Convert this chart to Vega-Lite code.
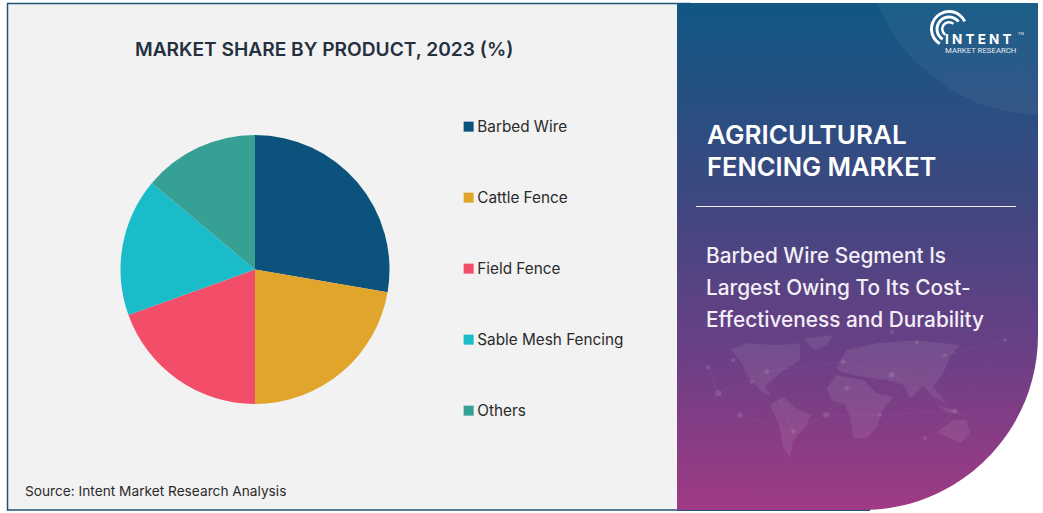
{
"$schema":"https://vega.github.io/schema/vega-lite/v6.json",
"width":1043,"height":513,"padding":0,"autosize":{"type":"none"},"background":"white",
"config":{"view":{"stroke":null}},
"title":{"text":"MARKET SHARE BY PRODUCT, 2023 (%)","anchor":"start","frame":"group","dx":135,"dy":75,"offset":0,"baseline":"alphabetic","font":"Inter","fontSize":19.15,"fontWeight":600,"color":"#25303f"},
"data":{"values":[
{"product":"Barbed Wire","share":27.7,"rank":1},
{"product":"Cattle Fence","share":22.3,"rank":2},
{"product":"Field Fence","share":19.5,"rank":3},
{"product":"Sable Mesh Fencing","share":16.6,"rank":4},
{"product":"Others","share":13.9,"rank":5}
]},
"layer":[
{"data":{"values":[{}]},"mark":{"type":"rect","fill":"#f2f2f2","stroke":"#1f5473","strokeWidth":1.5},
 "encoding":{"x":{"value":7.5},"x2":{"value":690},"y":{"value":3.5},"y2":{"value":510}}},
{"data":{"values":[{}]},"mark":{"type":"rect","fill":"#2a4f78"},
 "encoding":{"x":{"value":677},"x2":{"value":870},"y":{"value":509},"y2":{"value":511}}},
{"data":{"values":[{}]},"mark":{"type":"rect","cornerRadiusBottomRight":175,"color":{"gradient":"linear","x1":0,"y1":0,"x2":0,"y2":1,"stops":[{"offset":0,"color":"#105783"},{"offset":0.4,"color":"#404780"},{"offset":0.7,"color":"#6c3f85"},{"offset":1,"color":"#a03a85"}]}},
 "encoding":{"x":{"value":677},"x2":{"value":1038},"y":{"value":3},"y2":{"value":510}}},
{"data":{"values":{"type":"FeatureCollection","features":[
 {"type":"Feature","properties":{"name":"swoosh"},"geometry":{"type":"Polygon","coordinates":[[[561,-981],[600,-900],[669,-810],[780,-720],[876,-675],[960,-654],[1044,-645],[1044,-981],[561,-981]]]}}
]},"format":{"type":"json","property":"features"}},
 "projection":{"type":"identity","scale":0.3333,"translate":[690,330]},
 "mark":{"type":"geoshape","fill":"#ffffff","fillOpacity":0.05,"stroke":null}},
{"data":{"values":{"type":"FeatureCollection","features":[
 {"type":"Feature","properties":{"name":"Greenland"},"geometry":{"type":"Polygon","coordinates":[[[340,25],[430,15],[410,45],[380,60],[360,50],[340,25]]]}},
 {"type":"Feature","properties":{"name":"North America"},"geometry":{"type":"Polygon","coordinates":[[[120,60],[170,40],[260,45],[330,40],[330,90],[270,130],[225,170],[245,200],[215,185],[175,140],[150,90],[120,60]]]}},
 {"type":"Feature","properties":{"name":"South America"},"geometry":{"type":"Polygon","coordinates":[[[240,225],[280,200],[320,235],[365,255],[340,300],[310,330],[300,385],[280,350],[265,280],[240,225]]]}},
 {"type":"Feature","properties":{"name":"Africa"},"geometry":{"type":"Polygon","coordinates":[[[410,175],[440,135],[520,150],[560,190],[610,200],[570,250],[565,285],[530,325],[490,325],[480,260],[465,225],[425,210],[410,175]]]}},
 {"type":"Feature","properties":{"name":"Eurasia"},"geometry":{"type":"Polygon","coordinates":[[[440,110],[470,60],[560,40],[680,30],[810,45],[780,80],[760,130],[730,170],[770,220],[730,200],[700,170],[660,205],[640,165],[590,150],[520,140],[450,125],[440,110]]]}},
 {"type":"Feature","properties":{"name":"Australia"},"geometry":{"type":"Polygon","coordinates":[[[740,305],[790,270],[830,270],[840,310],[810,340],[770,320],[740,305]]]}},
 {"type":"Feature","properties":{"name":"Indonesia"},"geometry":{"type":"Polygon","coordinates":[[[740,225],[790,240],[830,255],[770,245],[740,225]]]}}
]},"format":{"type":"json","property":"features"}},
 "projection":{"type":"identity","scale":0.3333,"translate":[690,330]},
 "mark":{"type":"geoshape","fill":"#ffffff","fillOpacity":0.08,"stroke":null}},
{"data":{"values":{"type":"FeatureCollection","features":[
 {"type":"Feature","properties":{"name":"links"},"geometry":{"type":"MultiLineString","coordinates":[
  [[0,90],[55,112],[85,190],[150,255],[310,305],[408,255],[570,255],[795,243],[705,325]],
  [[85,190],[230,125],[460,95],[605,135],[765,75],[945,30]],
  [[130,90],[185,155],[150,255]],[[230,125],[310,305]],[[408,255],[470,175],[605,135],[570,255]],
  [[605,135],[795,243]],[[680,38],[605,135]],[[765,75],[650,205]],[[945,30],[795,243]],[[0,300],[85,190]]
 ]}}
]},"format":{"type":"json","property":"features"}},
 "projection":{"type":"identity","scale":0.3333,"translate":[690,330]},
 "mark":{"type":"geoshape","fill":null,"filled":false,"stroke":"#ffffff","strokeOpacity":0.08,"strokeWidth":0.5}},
{"data":{"values":[
 {"lon":85,"lat":190,"r":40},{"lon":150,"lat":255,"r":30},{"lon":408,"lat":255,"r":36},{"lon":55,"lat":112,"r":20},{"lon":130,"lat":90,"r":20},{"lon":230,"lat":125,"r":24},{"lon":185,"lat":155,"r":20},{"lon":310,"lat":305,"r":24},{"lon":470,"lat":175,"r":24},{"lon":605,"lat":135,"r":34},{"lon":460,"lat":95,"r":24},{"lon":570,"lat":255,"r":20},{"lon":795,"lat":243,"r":24},{"lon":705,"lat":325,"r":18},{"lon":765,"lat":75,"r":16},{"lon":680,"lat":38,"r":16},{"lon":945,"lat":30,"r":18},{"lon":605,"lat":5,"r":20}
 ]},
 "projection":{"type":"identity","scale":0.3333,"translate":[690,330]},
 "mark":{"type":"circle","color":"#ffffff","opacity":0.11},
 "encoding":{"longitude":{"field":"lon","type":"quantitative"},"latitude":{"field":"lat","type":"quantitative"},"size":{"field":"r","type":"quantitative","scale":null,"legend":null}}},
{"data":{"values":[{}]},"mark":{"type":"rule","stroke":"#f4eef6","strokeWidth":1},
 "encoding":{"x":{"value":696},"x2":{"value":1016},"y":{"value":206.5}}},
{"mark":{"type":"arc","radius":134.5,"stroke":null},
 "encoding":{
  "x":{"value":255},"y":{"value":269.5},
  "theta":{"field":"share","type":"quantitative","stack":true},
  "order":{"field":"rank","type":"ordinal"},
  "color":{"field":"product","type":"nominal","sort":null,
   "scale":{"domain":["Barbed Wire","Cattle Fence","Field Fence","Sable Mesh Fencing","Others"],"range":["#0b527d","#e2a52c","#f34e69","#1bbcc9","#37a094"]},
   "legend":{"orient":"none","legendX":461,"legendY":119,"title":null,"direction":"vertical","columns":1,"symbolType":"square","symbolSize":100,"symbolStrokeWidth":0,"labelFont":"Inter","labelFontSize":15.3,"labelColor":"#2a2a2a","labelOffset":1,"rowPadding":55,"labelLimit":200}}
 }},
{"data":{"values":[{}]},"mark":{"type":"text","text":"Source: Intent Market Research Analysis","x":25,"y":496,"align":"left","baseline":"alphabetic","font":"Inter","fontSize":13.7,"color":"#2a2a2a"}},
{"data":{"values":[{}]},"mark":{"type":"text","text":"AGRICULTURAL","x":707,"y":144,"align":"left","baseline":"alphabetic","font":"Inter","fontSize":26.1,"fontWeight":600,"color":"#ffffff"}},
{"data":{"values":[{}]},"mark":{"type":"text","text":"FENCING MARKET","x":707,"y":176,"align":"left","baseline":"alphabetic","font":"Inter","fontSize":25.5,"fontWeight":600,"color":"#ffffff"}},
{"data":{"values":[{}]},"mark":{"type":"text","text":"Barbed Wire Segment Is","x":706,"y":263,"align":"left","baseline":"alphabetic","font":"Inter","fontSize":20.8,"fontWeight":500,"color":"#f4eef6"}},
{"data":{"values":[{}]},"mark":{"type":"text","text":"Largest Owing To Its Cost-","x":706,"y":295,"align":"left","baseline":"alphabetic","font":"Inter","fontSize":20.8,"fontWeight":500,"color":"#f4eef6"}},
{"data":{"values":[{}]},"mark":{"type":"text","text":"Effectiveness and Durability","x":706,"y":326.5,"align":"left","baseline":"alphabetic","font":"Inter","fontSize":20.8,"fontWeight":500,"color":"#f4eef6"}},
{"data":{"values":[{}]},"mark":{"type":"arc","x":949,"y":29,"radius":19,"radius2":16,"theta":3.7,"theta2":7.4,"fill":"#ffffff"}},
{"data":{"values":[{}]},"mark":{"type":"arc","x":949,"y":29,"radius":13.5,"radius2":10.5,"theta":3.7,"theta2":7.2,"fill":"#ffffff"}},
{"data":{"values":[{}]},"mark":{"type":"arc","x":949,"y":29,"radius":8,"radius2":5.5,"theta":3.7,"theta2":7.0,"fill":"#ffffff"}},
{"data":{"values":[{}]},"mark":{"type":"text","text":"I N T E N T","x":945,"y":44,"align":"left","baseline":"alphabetic","font":"Inter","fontSize":13.5,"fontWeight":700,"color":"#ffffff"}},
{"data":{"values":[{}]},"mark":{"type":"text","text":"MARKET RESEARCH","x":945,"y":53,"align":"left","baseline":"alphabetic","font":"Roboto","fontSize":7.8,"color":"#e4ecf4"}},
{"data":{"values":[{}]},"mark":{"type":"text","text":"TM","x":1018,"y":35,"align":"left","baseline":"alphabetic","font":"Roboto","fontSize":4,"color":"#e4ecf4"}}
]
}
